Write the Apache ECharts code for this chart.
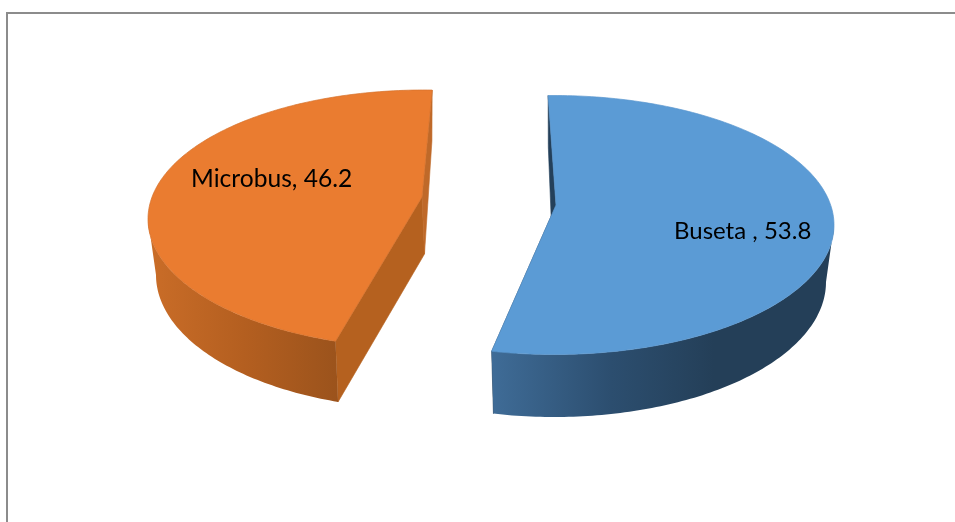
<!DOCTYPE html>
<html>
<head>
<meta charset="utf-8">
<style>html,body{margin:0;padding:0;background:#fff}#c{width:955px;height:522px}</style>
<script src="https://cdn.jsdelivr.net/npm/echarts@6/dist/echarts.min.js"></script>
</head>
<body>
<div id="c"></div>
<script>
var categories = ['Buseta ', 'Microbus'];
var values = [53.8, 46.2];

// Drawing layout of the exploded 3-D slices (not data); sweep is the perspective foreshortening of the angle
var sliceLayout = [
  { start: -1.2, sweep: 1.002, top: { cx: 554, cy: 225, rx: 280, ry: 129.5 }, bot: { cx: 554, cy: 282, rx: 272, ry: 135 },
    apexTop: [556, 205], apexBot: [553, 263], wallFrom: 90, wallTo: null, label: [674, 231], fontSize: 24,
    face: '#5b9bd5', edge: '#5a97cf', cutA: '#24405a', cutB: '#24405a',
    wall: [[0, '#3f6c97'], [0.35, '#2c4e6f'], [0.65, '#243f58'], [1, '#243f58']] },
  { start: 198.7, sweep: 0.98, top: { cx: 424, cy: 219, rx: 276, ry: 129 }, bot: { cx: 424, cy: 275, rx: 268, ry: 134 },
    apexTop: [422, 197], apexBot: [424.5, 254], wallFrom: null, wallTo: 270, label: [191, 179], fontSize: 24.6,
    face: '#ea7c30', edge: '#d5712b', cutA: '#b5611f', cutB: '#bf6929',
    wall: [[0, '#ca6d28'], [0.5, '#b45f20'], [1, '#9b531c']] }
];

function pt(e, deg) {
  var t = deg * Math.PI / 180;
  return [e.cx + e.rx * Math.sin(t), e.cy - e.ry * Math.cos(t)];
}
function arc(e, a, b) {
  var n = Math.max(2, Math.ceil(Math.abs(b - a))), out = [];
  for (var i = 0; i <= n; i++) out.push(pt(e, a + (b - a) * i / n));
  return out;
}
var total = values.reduce(function (s, v) { return s + v; }, 0);

function renderSlice(params, api) {
  var i = api.value(1), v = api.value(0), L = sliceLayout[i];
  var a = L.start, b = a + v / total * 360 * L.sweep;
  var wA = L.wallFrom !== null ? L.wallFrom : a;
  var wB = L.wallTo !== null ? L.wallTo : b;
  var grad = { type: 'linear', x: 0, y: 0, x2: 1, y2: 0,
    colorStops: L.wall.map(function (s) { return { offset: s[0], color: s[1] }; }) };

  var kids = [];
  kids.push({ type: 'polygon', shape: { points: [pt(L.top, a), pt(L.bot, a), L.apexBot, L.apexTop] },
    style: { fill: L.cutA, stroke: L.cutA, lineWidth: 0.6 } });
  kids.push({ type: 'polygon', shape: { points: [pt(L.top, b), pt(L.bot, b), L.apexBot, L.apexTop] },
    style: { fill: L.cutB, stroke: L.cutB, lineWidth: 0.6 } });
  kids.push({ type: 'polygon', shape: { points: arc(L.top, wA, wB).concat(arc(L.bot, wB, wA)) },
    style: { fill: grad } });
  kids.push({ type: 'polygon', shape: { points: [L.apexTop].concat(arc(L.top, a, b)) },
    style: { fill: L.face, stroke: L.edge, lineWidth: 0.7 } });
  kids.push({ type: 'text', style: { x: L.label[0], y: L.label[1], text: categories[i] + ', ' + v,
    fill: '#000', font: L.fontSize + 'px Lato', textAlign: 'left', textVerticalAlign: 'middle' } });
  return { type: 'group', children: kids };
}

var chart = echarts.init(document.getElementById('c'), null, { renderer: 'canvas' });
chart.setOption({
  animation: false,
  backgroundColor: '#ffffff',
  graphic: [{ type: 'rect', silent: true, shape: { x: 7, y: 13, width: 1100, height: 700 },
    style: { fill: 'none', stroke: '#8c8c8c', lineWidth: 2 }, z: 10 }],
  series: [{
    type: 'custom',
    coordinateSystem: 'none',
    renderItem: renderSlice,
    encode: { value: 0 },
    silent: true,
    data: values.map(function (v, i) { return [v, i]; })
  }]
});
</script>
</body>
</html>
